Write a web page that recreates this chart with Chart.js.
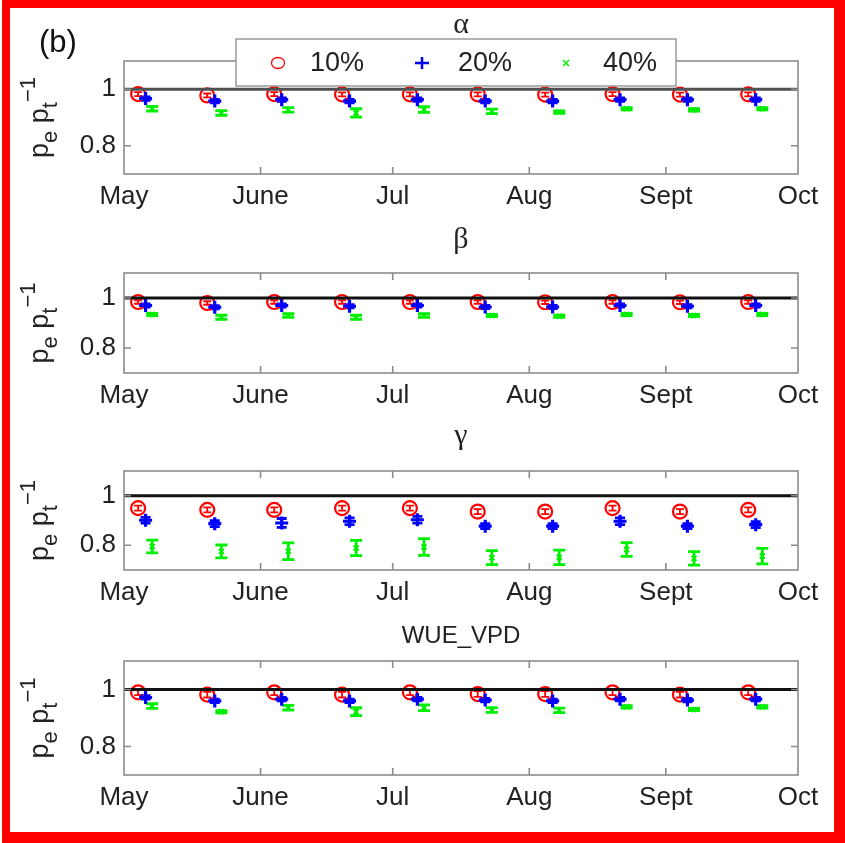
<!DOCTYPE html>
<html><head><meta charset="utf-8">
<script src="https://cdn.jsdelivr.net/npm/chart.js@4.4.1/dist/chart.umd.min.js"></script>
<style>
html,body{margin:0;padding:0;background:#fff;}
#page{position:relative;width:845px;height:843px;overflow:hidden;background:#fff;}
#frame{position:absolute;left:2px;top:0;width:843px;height:843px;box-sizing:border-box;border-style:solid;border-color:#ff0000;border-width:8px 11px 11px 8px;}
canvas{position:absolute;left:0;}
</style></head><body>
<div id="page"><div id="frame"></div></div>
<script>
// ---------- data ----------
const xTickDays   = [0, 31, 61, 92, 123, 153];
const xTickLabels = ['May', 'June', 'Jul', 'Aug', 'Sept', 'Oct'];
const yTickValues = [0.8, 1];
const yTickLabels = ['0.8', '1'];
const legendLabels = ['10%', '20%', '40%'];
const panelTitles = ['\u03B1', '\u03B2', '\u03B3', 'WUE_VPD'];

// x positions (days after 1 May) of each series
const redDays   = [3.2, 18.9, 34.1, 49.5, 64.9, 80.3, 95.6, 110.9, 126.2, 141.7];
const blueDays  = [4.9, 20.6, 35.8, 51.2, 66.6, 82.0, 97.3, 112.6, 127.9, 143.4];
const greenDays = [6.4, 22.1, 37.3, 52.7, 68.1, 83.5, 98.8, 114.1, 129.4, 144.9];

// reference line p_e/p_t = 1
const refLineX = [0, 153];
const refLineY = [1, 1];

// alpha
const alphaRed    = [0.983, 0.978, 0.983, 0.982, 0.982, 0.982, 0.981, 0.983, 0.981, 0.982];
const alphaRedErr = [0.007, 0.007, 0.007, 0.007, 0.007, 0.007, 0.007, 0.007, 0.007, 0.007];
const alphaBlue    = [0.967, 0.958, 0.963, 0.958, 0.963, 0.958, 0.958, 0.963, 0.963, 0.963];
const alphaBlueErr = [0.006, 0.006, 0.006, 0.006, 0.006, 0.006, 0.006, 0.006, 0.006, 0.006];
const alphaGreen    = [0.931, 0.916, 0.927, 0.916, 0.928, 0.922, 0.919, 0.931, 0.927, 0.931];
const alphaGreenErr = [0.008, 0.008, 0.008, 0.015, 0.010, 0.008, 0.004, 0.004, 0.004, 0.004];

// beta
const betaRed    = [0.984, 0.980, 0.984, 0.984, 0.984, 0.984, 0.983, 0.984, 0.983, 0.984];
const betaRedErr = [0.007, 0.007, 0.007, 0.007, 0.007, 0.007, 0.007, 0.007, 0.007, 0.007];
const betaBlue    = [0.970, 0.963, 0.970, 0.967, 0.970, 0.964, 0.964, 0.970, 0.967, 0.970];
const betaBlueErr = [0.006, 0.006, 0.006, 0.006, 0.006, 0.006, 0.006, 0.006, 0.006, 0.006];
const betaGreen    = [0.934, 0.923, 0.930, 0.923, 0.930, 0.930, 0.927, 0.934, 0.930, 0.934];
const betaGreenErr = [0.004, 0.008, 0.007, 0.008, 0.007, 0.004, 0.004, 0.004, 0.004, 0.004];

// gamma
const gammaRed    = [0.950, 0.943, 0.943, 0.950, 0.950, 0.936, 0.936, 0.950, 0.936, 0.943];
const gammaRedErr = [0.010, 0.010, 0.010, 0.010, 0.010, 0.010, 0.010, 0.010, 0.010, 0.010];
const gammaBlue    = [0.901, 0.887, 0.890, 0.897, 0.903, 0.877, 0.877, 0.897, 0.877, 0.883];
const gammaBlueErr = [0.012, 0.012, 0.018, 0.014, 0.014, 0.010, 0.010, 0.014, 0.010, 0.012];
const gammaGreen    = [0.795, 0.775, 0.776, 0.789, 0.793, 0.750, 0.751, 0.783, 0.747, 0.756];
const gammaGreenErr = [0.026, 0.026, 0.034, 0.031, 0.034, 0.028, 0.029, 0.028, 0.027, 0.031];

// WUE_VPD
const wueRed    = [0.990, 0.982, 0.990, 0.982, 0.990, 0.984, 0.984, 0.990, 0.982, 0.990];
const wueRedErr = [0.010, 0.010, 0.010, 0.010, 0.010, 0.010, 0.010, 0.010, 0.010, 0.010];
const wueBlue    = [0.972, 0.960, 0.966, 0.960, 0.966, 0.963, 0.960, 0.966, 0.963, 0.966];
const wueBlueErr = [0.006, 0.006, 0.006, 0.006, 0.006, 0.006, 0.006, 0.006, 0.006, 0.006];
const wueGreen    = [0.942, 0.922, 0.936, 0.922, 0.936, 0.928, 0.927, 0.939, 0.930, 0.939];
const wueGreenErr = [0.008, 0.004, 0.008, 0.014, 0.010, 0.008, 0.008, 0.004, 0.004, 0.004];

const panels = [
  {red: alphaRed, redErr: alphaRedErr, blue: alphaBlue, blueErr: alphaBlueErr, green: alphaGreen, greenErr: alphaGreenErr},
  {red: betaRed, redErr: betaRedErr, blue: betaBlue, blueErr: betaBlueErr, green: betaGreen, greenErr: betaGreenErr},
  {red: gammaRed, redErr: gammaRedErr, blue: gammaBlue, blueErr: gammaBlueErr, green: gammaGreen, greenErr: gammaGreenErr},
  {red: wueRed, redErr: wueRedErr, blue: wueBlue, blueErr: wueBlueErr, green: wueGreen, greenErr: wueGreenErr}
];

// ---------- layout ----------
const panelTop    = [61, 273, 471, 661];
const panelBottom = [174, 373, 570, 775];
const titleBaseOffset = [28, 25, 27, 18];
const refLineColor = ['#505050', '#111', '#111', '#111'];
const PAD_TOP = 55, X_AXIS_H = 50, PLOT_LEFT = 124, PAD_RIGHT = 47;
const RED = '#ff0000', BLUE = '#0000ff', GREEN = '#00ee00';
const BOX = '#8c8c8c';
const SANS = '"Liberation Sans", Arial, Helvetica, sans-serif';
const SERIF = '"Liberation Serif", "Times New Roman", serif';

function pts(xs, ys) { return xs.map((x, j) => ({x: x, y: ys[j]})); }

const decoPlugin = {
  id: 'deco',
  beforeDatasetsDraw(chart, args, opts) {
    const ctx = chart.ctx;
    const xs = chart.scales.x, ys = chart.scales.y;
    ctx.save();
    chart.data.datasets.forEach((ds) => {
      if (!ds.errorBars) return;
      ctx.strokeStyle = ds.borderColor;
      ctx.lineWidth = ds.errLineWidth || 2;
      const cap = ds.capHalf || 5;
      ds.data.forEach((p, j) => {
        const e = ds.errorBars[j];
        const px = xs.getPixelForValue(p.x);
        const y1 = ys.getPixelForValue(p.y - e);
        const y2 = ys.getPixelForValue(p.y + e);
        ctx.beginPath();
        ctx.moveTo(px, y1); ctx.lineTo(px, y2);
        ctx.moveTo(px - cap, y1); ctx.lineTo(px + cap, y1);
        ctx.moveTo(px - cap, y2); ctx.lineTo(px + cap, y2);
        ctx.stroke();
      });
    });
    ctx.restore();
  },
  afterDatasetsDraw(chart, args, opts) {
    const ctx = chart.ctx, a = chart.chartArea;
    const xs = chart.scales.x, ys = chart.scales.y;
    ctx.save();
    ctx.strokeStyle = BOX; ctx.lineWidth = 1.6;
    ctx.strokeRect(a.left, a.top, a.right - a.left, a.bottom - a.top);
    const tl = 7;
    ctx.beginPath();
    xs.ticks.forEach(t => {
      const px = xs.getPixelForValue(t.value);
      if (px <= a.left + 1 || px >= a.right - 1) return;
      ctx.moveTo(px, a.bottom); ctx.lineTo(px, a.bottom - tl);
      ctx.moveTo(px, a.top); ctx.lineTo(px, a.top + tl);
    });
    ys.ticks.forEach(t => {
      const py = ys.getPixelForValue(t.value);
      ctx.moveTo(a.left, py); ctx.lineTo(a.left + tl, py);
      ctx.moveTo(a.right, py); ctx.lineTo(a.right - tl, py);
    });
    ctx.stroke();
    ctx.restore();
  },
  afterDraw(chart, args, opts) {
    const ctx = chart.ctx, a = chart.chartArea;
    ctx.save();
    const cx = (a.left + a.right) / 2;
    ctx.fillStyle = '#222';
    ctx.textAlign = 'center';
    ctx.textBaseline = 'alphabetic';
    ctx.font = opts.serif ? ('30px ' + SERIF) : ('24px ' + SANS);
    ctx.fillText(opts.title, cx, a.top - opts.titleOffset);

    // y-axis title  p_e p_t^{-1}
    const cy = (a.top + a.bottom) / 2;
    const parts = [
      {t: 'p', f: 27, dy: 0},
      {t: 'e', f: 22, dy: 9},
      {t: ' ', f: 27, dy: 0},
      {t: 'p', f: 27, dy: 0},
      {t: 't', f: 22, dy: 9},
      {t: '\u22121', f: 22, dy: -13}
    ];
    let total = 0;
    parts.forEach(p => { ctx.font = p.f + 'px ' + SANS; p.w = ctx.measureText(p.t).width; total += p.w; });
    ctx.translate(48, cy);
    ctx.rotate(-Math.PI / 2);
    ctx.textAlign = 'left';
    let x0 = -total / 2;
    parts.forEach(p => {
      ctx.font = p.f + 'px ' + SANS;
      ctx.fillText(p.t, x0, p.dy);
      x0 += p.w;
    });
    ctx.setTransform(1, 0, 0, 1, 0, 0);

    if (opts.legend) {
      ctx.font = '31px ' + SANS;
      ctx.textAlign = 'left';
      ctx.fillStyle = '#111';
      ctx.fillText('(b)', 39, a.top - 9);
      const lx = a.left + 112, ly = a.top - 22, lw = 440, lh = 47;
      ctx.fillStyle = '#fff';
      ctx.fillRect(lx, ly, lw, lh);
      ctx.strokeStyle = '#999'; ctx.lineWidth = 1.5;
      ctx.strokeRect(lx, ly, lw, lh);
      const my = a.top + 2;
      const mx = [a.left + 154, a.left + 298, a.left + 442];
      ctx.strokeStyle = RED; ctx.lineWidth = 1.3;
      ctx.beginPath(); ctx.ellipse(mx[0], my, 6.5, 5.5, 0, 0, Math.PI * 2); ctx.stroke();
      ctx.strokeStyle = BLUE; ctx.lineWidth = 2.5;
      ctx.beginPath();
      ctx.moveTo(mx[1] - 7, my); ctx.lineTo(mx[1] + 7, my);
      ctx.moveTo(mx[1], my - 6); ctx.lineTo(mx[1], my + 6);
      ctx.stroke();
      ctx.strokeStyle = GREEN; ctx.lineWidth = 1.5;
      ctx.beginPath();
      ctx.moveTo(mx[2] - 3, my - 3); ctx.lineTo(mx[2] + 3, my + 3);
      ctx.moveTo(mx[2] - 3, my + 3); ctx.lineTo(mx[2] + 3, my - 3);
      ctx.stroke();
      ctx.fillStyle = '#222';
      ctx.font = '27px ' + SANS;
      ctx.textBaseline = 'middle';
      const tx = [a.left + 186, a.left + 334, a.left + 479];
      legendLabels.forEach((l, i) => ctx.fillText(l, tx[i], my + 1));
    }
    ctx.restore();
  }
};

const page = document.getElementById('page');
panels.forEach((pd, i) => {
  const cv = document.createElement('canvas');
  const h = panelBottom[i] - panelTop[i] + PAD_TOP + X_AXIS_H;
  cv.width = 845; cv.height = h;
  cv.style.top = (panelTop[i] - PAD_TOP) + 'px';
  cv.style.width = '845px'; cv.style.height = h + 'px';
  page.appendChild(cv);
  new Chart(cv, {
    type: 'scatter',
    data: {
      datasets: [
        {type: 'line', data: pts(refLineX, refLineY), borderColor: refLineColor[i], borderWidth: 3.2,
         pointRadius: 0, showLine: true, order: 1, clip: false},
        {data: pts(redDays, pd.red), errorBars: pd.redErr, borderColor: RED, backgroundColor: 'rgba(0,0,0,0)',
         pointStyle: 'circle', pointRadius: 7, borderWidth: 2.2, order: 4, capHalf: 4, errLineWidth: 1.8},
        {data: pts(blueDays, pd.blue), errorBars: pd.blueErr, borderColor: BLUE, backgroundColor: BLUE,
         pointStyle: 'cross', pointRadius: 6.5, borderWidth: 3.2, order: 3, capHalf: 5, errLineWidth: 2.8},
        {data: pts(greenDays, pd.green), errorBars: pd.greenErr, borderColor: GREEN, backgroundColor: GREEN,
         pointStyle: 'crossRot', pointRadius: 3.5, borderWidth: 2, order: 2, capHalf: 6, errLineWidth: 2.8}
      ]
    },
    options: {
      responsive: false, animation: false, events: [],
      layout: {padding: {left: 0, right: PAD_RIGHT, top: PAD_TOP, bottom: 0}},
      plugins: {
        legend: {display: false}, tooltip: {enabled: false},
        deco: {title: panelTitles[i], serif: i < 3, titleOffset: titleBaseOffset[i], legend: i === 0}
      },
      scales: {
        x: {
          type: 'linear', min: 0, max: 153,
          grid: {display: false, drawTicks: false}, border: {display: false},
          afterBuildTicks(s) { s.ticks = xTickDays.map(v => ({value: v})); },
          afterFit(s) { s.height = X_AXIS_H; },
          ticks: {callback: (v, idx) => xTickLabels[idx], autoSkip: false, maxRotation: 0,
                  font: {family: SANS, size: 26}, color: '#222', padding: 7}
        },
        y: {
          min: 0.7, max: 1.1,
          grid: {display: false, drawTicks: false}, border: {display: false},
          afterBuildTicks(s) { s.ticks = yTickValues.map(v => ({value: v})); },
          afterFit(s) { s.width = PLOT_LEFT; },
          ticks: {callback: (v, idx) => yTickLabels[idx],
                  font: {family: SANS, size: 26}, color: '#222', padding: 8}
        }
      }
    },
    plugins: [decoPlugin]
  });
});
</script>
</body></html>
